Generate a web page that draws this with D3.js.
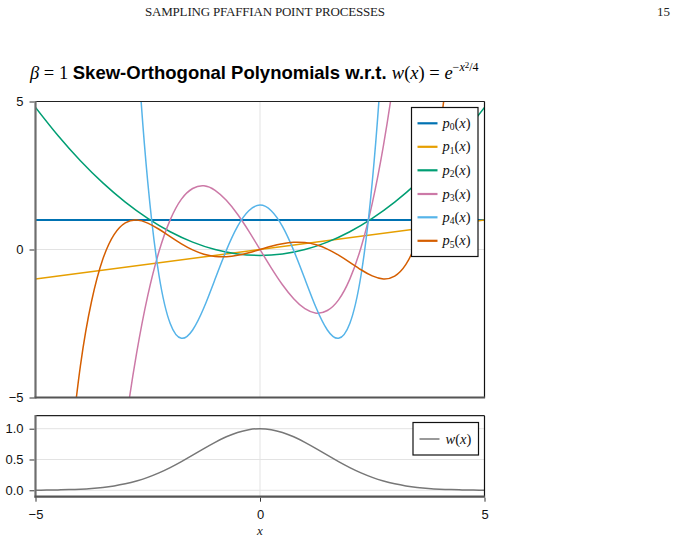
<!DOCTYPE html>
<html><head><meta charset="utf-8">
<script src="https://cdn.jsdelivr.net/npm/d3@7"></script>
<style>body{margin:0;background:#fff}</style></head><body>
<svg id="c" width="676" height="543"></svg>
<script>
// ---- data ----
const xTicks = [-5, 0, 5];
const yTopTicks = [-5, 0, 5];
const yBotTicks = [0, 0.5, 1.0];

const p0X = [-5, 5];
const p0Y = [1, 1];
const p1X = [-5, 5];
const p1Y = [-1, 1];
const p2X = [-5,-4.5,-4,-3.5,-3,-2.5,-2,-1.5,-1,-0.5,0,0.5,1,1.5,2,2.5,3,3.5,4,4.5,5];
const p2Y = [4.8,3.85,3.0,2.25,1.6,1.05,0.6,0.25,0,-0.15,-0.2,-0.15,0,0.25,0.6,1.05,1.6,2.25,3.0,3.85,4.8];
const p3X = [-3.25,-3,-2.75,-2.5,-2.25,-2,-1.75,-1.5,-1.25,-1,-0.75,-0.5,-0.25,0,0.25,0.5,0.75,1,1.25,1.5,1.75,2,2.25,2.5,2.75,3,3.25];
const p3Y = [-9.04,-6,-3.52,-1.56,-0.07,1,1.70,2.06,2.15,2,1.66,1.19,0.62,0,-0.62,-1.19,-1.66,-2,-2.15,-2.06,-1.70,-1,0.07,1.56,3.52,6,9.04];
const p4X = [-3,-2.75,-2.5,-2.25,-2,-1.75,-1.5,-1.25,-1,-0.75,-0.5,-0.25,0,0.25,0.5,0.75,1,1.25,1.5,1.75,2,2.25,2.5,2.75,3];
const p4Y = [15,7.41,2.28,-0.87,-2.5,-3.0,-2.72,-1.97,-1,-0.03,0.78,1.31,1.5,1.31,0.78,-0.03,-1,-1.97,-2.72,-3.0,-2.5,-0.87,2.28,7.41,15];
const p5X = [-4.25,-4,-3.75,-3.5,-3.25,-3,-2.75,-2.5,-2.25,-2,-1.75,-1.5,-1.25,-1,-0.75,-0.5,-0.25,0,0.25,0.5,0.75,1,1.25,1.5,1.75,2,2.25,2.5,2.75,3,3.25,3.5,3.75,4,4.25];
const p5Y = [-7.11,-3.93,-1.74,-0.324,0.504,0.9,0.995,0.893,0.684,0.433,0.19,-0.014,-0.158,-0.233,-0.243,-0.196,-0.109,0,0.109,0.196,0.243,0.233,0.158,0.014,-0.19,-0.433,-0.684,-0.893,-0.995,-0.9,-0.504,0.324,1.74,3.93,7.11];
const wX = [-5,-4.75,-4.5,-4.25,-4,-3.75,-3.5,-3.25,-3,-2.75,-2.5,-2.25,-2,-1.75,-1.5,-1.25,-1,-0.75,-0.5,-0.25,0,0.25,0.5,0.75,1,1.25,1.5,1.75,2,2.25,2.5,2.75,3,3.25,3.5,3.75,4,4.25,4.5,4.75,5];
const wY = [0.0019,0.0036,0.0063,0.0109,0.0183,0.0297,0.0468,0.0713,0.1054,0.1510,0.2096,0.2821,0.3679,0.4650,0.5698,0.6766,0.7788,0.8688,0.9394,0.9845,1,0.9845,0.9394,0.8688,0.7788,0.6766,0.5698,0.4650,0.3679,0.2821,0.2096,0.1510,0.1054,0.0713,0.0468,0.0297,0.0183,0.0109,0.0063,0.0036,0.0019];

const seriesNames = ["0","1","2","3","4","5"];
const seriesX = [p0X,p1X,p2X,p3X,p4X,p5X];
const seriesY = [p0Y,p1Y,p2Y,p3Y,p4Y,p5Y];
const colors = ["#0072B2","#E69F00","#009E73","#CC79A7","#56B4E9","#D55E00"];

// ---- drawing ----
const svg = d3.select("#c");
const L = 35.5, R = 484.5;
const topT = 101.5, topB = 397.5;
const botT = 415.7, botB = 496.7;
const x = d3.scaleLinear([-5,5],[L,R]);
const yT = d3.scaleLinear([-5,5],[topB,topT]);
const yB = d3.scaleLinear([-0.104,1.211],[botB,botT]);
const SANS = "'Liberation Sans', Arial, sans-serif";
const SERIF = "'Liberation Serif', 'Times New Roman', serif";

// header
svg.append("text").attr("x",145).attr("y",16).attr("font-family",SERIF).attr("font-size",13)
  .attr("textLength",240).attr("lengthAdjust","spacing")
  .attr("fill","#222").text("SAMPLING PFAFFIAN POINT PROCESSES");
svg.append("text").attr("x",670).attr("y",16).attr("text-anchor","end").attr("font-family",SERIF)
  .attr("font-size",13).attr("fill","#222").text("15");

// title
const title = svg.append("text").attr("x",30).attr("y",79).attr("font-size",18.5).attr("fill","#000");
title.append("tspan").attr("font-family",SERIF).attr("font-style","italic").text("β");
title.append("tspan").attr("font-family",SERIF).text(" = 1 ");
title.append("tspan").attr("font-family",SANS).attr("font-weight","bold").attr("font-size",18.5).text("Skew-Orthogonal Polynomials w.r.t. ");
title.append("tspan").attr("font-family",SERIF).attr("font-style","italic").text("w");
title.append("tspan").attr("font-family",SERIF).text("(");
title.append("tspan").attr("font-family",SERIF).attr("font-style","italic").text("x");
title.append("tspan").attr("font-family",SERIF).text(") = ");
title.append("tspan").attr("font-family",SERIF).attr("font-style","italic").text("e");
title.append("tspan").attr("font-family",SERIF).attr("font-size",12).attr("dy",-8).text("−");
title.append("tspan").attr("font-family",SERIF).attr("font-style","italic").attr("font-size",12).text("x");
title.append("tspan").attr("font-family",SERIF).attr("font-size",9).attr("dy",-3).text("2");
title.append("tspan").attr("font-family",SERIF).attr("font-size",12).attr("dy",3).text("/4");

const minus = d => (d < 0 ? "−" + Math.abs(d) : String(d));

// clip paths
const defs = svg.append("defs");
defs.append("clipPath").attr("id","clipT").append("rect").attr("x",L).attr("y",topT).attr("width",R-L).attr("height",topB-topT);
defs.append("clipPath").attr("id","clipB").append("rect").attr("x",L).attr("y",botT).attr("width",R-L).attr("height",botB-botT);

function panel(yScale, T, B, yticks, fmt, clipId, showX) {
  const g = svg.append("g");
  g.selectAll(".gy").data(yticks).join("line").attr("x1",L).attr("x2",R)
    .attr("y1",d=>yScale(d)).attr("y2",d=>yScale(d)).attr("stroke","#e3e3e3").attr("stroke-width",1);
  g.selectAll(".gx").data(xTicks).join("line").attr("y1",T).attr("y2",B)
    .attr("x1",d=>x(d)).attr("x2",d=>x(d)).attr("stroke","#e3e3e3").attr("stroke-width",1);
  const ya = g.append("g").attr("transform",`translate(${L-1},0)`)
    .call(d3.axisLeft(yScale).tickValues(yticks).tickSize(5).tickPadding(6).tickFormat(fmt));
  ya.select(".domain").remove();
  ya.selectAll("line").attr("stroke","#333");
  ya.selectAll("text").attr("font-family",SANS).attr("font-size",13).attr("fill","#111");
  if (showX) {
    const xa = g.append("g").attr("transform",`translate(0,${B+1})`)
      .call(d3.axisBottom(x).tickValues(xTicks).tickSize(4).tickPadding(8).tickFormat(minus));
    xa.select(".domain").remove();
    xa.selectAll("line").attr("stroke","#333");
    xa.selectAll("text").attr("font-family",SANS).attr("font-size",13).attr("fill","#111");
  }
  const plot = g.append("g").attr("clip-path",`url(#${clipId})`);
  return {g, plot};
}

const topP = panel(yT, topT, topB, yTopTicks, minus, "clipT", false);
const botP = panel(yB, botT, botB, yBotTicks, d3.format(".1f"), "clipB", true);

const lineT = d3.line().curve(d3.curveNatural);
seriesNames.forEach((n,i) => {
  const pts = seriesX[i].map((v,j) => [x(v), yT(seriesY[i][j])]);
  topP.plot.append("path").attr("d", lineT(pts)).attr("fill","none")
    .attr("stroke",colors[i]).attr("stroke-width", i===0 ? 2 : 1.5);
});
botP.plot.append("path").attr("d", lineT(wX.map((v,j)=>[x(v), yB(wY[j])])))
  .attr("fill","none").attr("stroke","#777").attr("stroke-width",1.5);

function spines(T,B){
  svg.append("line").attr("x1",L).attr("x2",R).attr("y1",T).attr("y2",T).attr("stroke","#222").attr("stroke-width",1.2);
  svg.append("line").attr("x1",R).attr("x2",R).attr("y1",T).attr("y2",B).attr("stroke","#111").attr("stroke-width",1.2);
  svg.append("line").attr("x1",L).attr("x2",L).attr("y1",T-0.6).attr("y2",B+1).attr("stroke","#6e6e6e").attr("stroke-width",2.2);
  svg.append("line").attr("x1",L-1).attr("x2",R+0.6).attr("y1",B).attr("y2",B).attr("stroke","#555").attr("stroke-width",2.2);
}
spines(topT, topB);
spines(botT, botB);

// top legend
const lg = svg.append("g");
lg.append("rect").attr("x",411.5).attr("y",107.5).attr("width",66.5).attr("height",149)
  .attr("fill","#fff").attr("stroke","#111").attr("stroke-width",1.2);
const legY = [123.3,146.8,170.3,194.0,217.3,240.8];
seriesNames.forEach((n,i) => {
  lg.append("line").attr("x1",417.5).attr("x2",437.5).attr("y1",legY[i]).attr("y2",legY[i])
    .attr("stroke",colors[i]).attr("stroke-width",2.2);
  const t = lg.append("text").attr("x",442.5).attr("y",legY[i]+4.5).attr("font-family",SERIF).attr("font-size",14.5).attr("fill","#111");
  t.append("tspan").attr("font-style","italic").text("p");
  t.append("tspan").attr("font-size",9.5).attr("dy",2.5).text(n);
  t.append("tspan").attr("dy",-2.5).text("(");
  t.append("tspan").attr("font-style","italic").text("x");
  t.append("tspan").text(")");
});

// bottom legend
const bl = svg.append("g");
bl.append("rect").attr("x",413).attr("y",422.5).attr("width",65.5).attr("height",32.5)
  .attr("fill","#fff").attr("stroke","#111").attr("stroke-width",1.2);
bl.append("line").attr("x1",419.5).attr("x2",439.5).attr("y1",439).attr("y2",439).attr("stroke","#777").attr("stroke-width",1.5);
const bt = bl.append("text").attr("x",445.5).attr("y",443.5).attr("font-family",SERIF).attr("font-size",14.5).attr("fill","#111");
bt.append("tspan").attr("font-style","italic").text("w");
bt.append("tspan").text("(");
bt.append("tspan").attr("font-style","italic").text("x");
bt.append("tspan").text(")");

svg.append("text").attr("x",x(0)).attr("y",535).attr("text-anchor","middle").attr("font-family",SERIF)
  .attr("font-style","italic").attr("font-size",13).attr("fill","#222").text("x");
</script></body></html>
